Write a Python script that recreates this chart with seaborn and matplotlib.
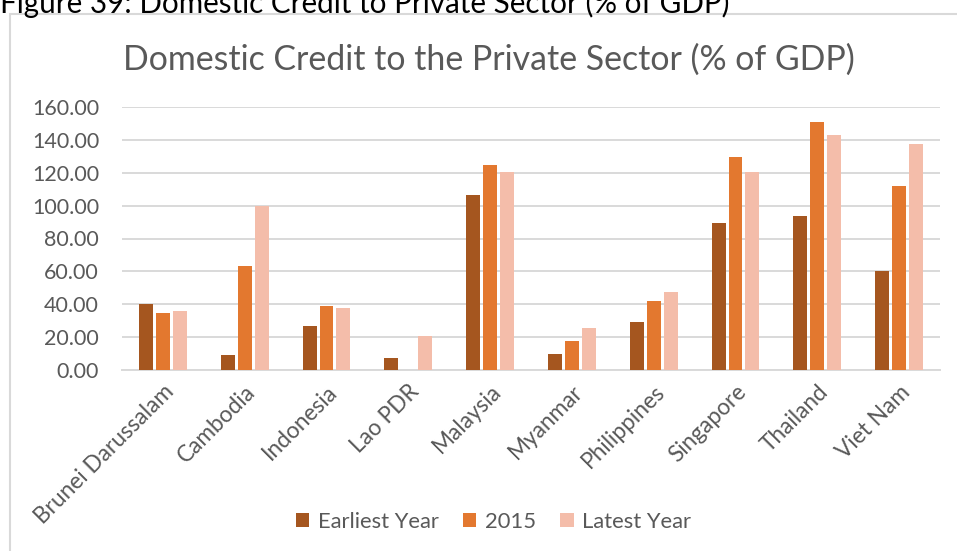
import matplotlib
matplotlib.use('Agg')
from matplotlib import pyplot as plt
from matplotlib.patches import Rectangle
import numpy as np
import pandas as pd
import seaborn as sns

countries = ['Brunei Darussalam', 'Cambodia', 'Indonesia', 'Lao PDR', 'Malaysia',
             'Myanmar', 'Philippines', 'Singapore', 'Thailand', 'Viet Nam']
earliest = [40.3, 8.9, 26.5, 7.5, 106.2, 9.9, 29.0, 89.4, 93.7, 60.4]
y2015 = [34.7, 63.0, 38.7, np.nan, 124.9, 17.4, 41.7, 129.5, 151.0, 111.7]
latest = [35.7, 99.5, 37.7, 20.9, 120.6, 25.7, 47.6, 120.6, 143.1, 137.6]
series = ['Earliest Year', '2015', 'Latest Year']
colors = ['#a5561f', '#e3782f', '#f4bdaa']
yticks = [0, 20, 40, 60, 80, 100, 120, 140, 160]

df = pd.DataFrame({'Country': countries * 3,
                   'Series': [s for s in series for _ in countries],
                   'Value': earliest + y2015 + latest})

sns.set_style('white')
plt.rcParams['font.family'] = ['Lato', 'DejaVu Sans']
grey = '#595959'

fig = plt.figure(figsize=(9.57, 5.51), dpi=100)
ax = fig.add_axes([122 / 957, 1 - 370 / 551, 818 / 957, 263 / 551])

sns.barplot(data=df, x='Country', y='Value', hue='Series', palette=colors,
            saturation=1, width=0.62, gap=0.18, linewidth=0, ax=ax, zorder=3)

ax.set_ylim(0, 160)
ax.set_yticks(yticks)
ax.set_yticklabels([f'{v:.2f}' for v in yticks], color=grey, fontsize=15.5)
ax.set_xlim(-0.5, len(countries) - 0.5)
ax.set_xlabel('')
ax.set_ylabel('')
ax.set_xticks(range(len(countries)))
ax.set_xticklabels(countries, rotation=45, ha='right', va='top',
                   rotation_mode='anchor', color=grey, fontsize=16.3)
ax.tick_params(axis='y', length=0, pad=16.5)
ax.tick_params(axis='x', length=0, pad=8)
ax.grid(axis='y', color='#d9d9d9', linewidth=1.4, zorder=0)
for s in ['top', 'right', 'left']:
    ax.spines[s].set_visible(False)
ax.spines['bottom'].set_color('#d9d9d9')
ax.spines['bottom'].set_linewidth(1.4)

ax.legend(loc='center', bbox_to_anchor=(0.516, 0.053), bbox_transform=fig.transFigure,
          ncol=3, frameon=False, fontsize=15.8, labelcolor=grey,
          handlelength=0.6, handleheight=0.6, handletextpad=0.4, columnspacing=1.1)

fig.text(0.511, 0.891, 'Domestic Credit to the Private Sector (% of GDP)',
         ha='center', va='center', fontsize=24.4, color=grey)
fig.text(0.0, 1 - 13 / 551, 'Figure 39: Domestic Credit to Private Sector (% of GDP)',
         ha='left', va='baseline', fontsize=21.3, color='black')

fig.patches.append(Rectangle((9.5 / 957, -0.1), 1.1, 1.1 - 13.5 / 551,
                             transform=fig.transFigure, fill=False,
                             edgecolor='#d9d9d9', linewidth=1.5))

fig.savefig('out.png', dpi=100)
